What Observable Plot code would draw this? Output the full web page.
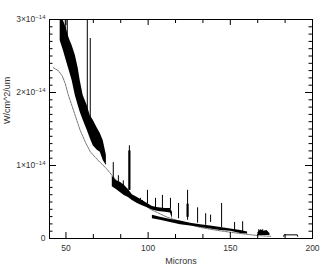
<!DOCTYPE html>
<html><head><meta charset="utf-8">
<script src="https://cdn.jsdelivr.net/npm/d3@7"></script>
<script src="https://cdn.jsdelivr.net/npm/@observablehq/plot@0.6"></script>
<style>html,body{margin:0;padding:0;background:#fff}svg{display:block}</style>
</head><body><div id="chart"></div>
<script>
// Flux values are in units of 1e-14 W/cm^2/um; wavelengths in microns.
const xTicksMajor = [50, 100, 150, 200];
const xTickLabels = ["50", "100", "150", "200"];
const xTicksMinor = [66.67, 83.33, 116.67, 133.33, 166.67, 183.33];
const yTicksMajor = [0, 1, 2, 3];
const yTickLabels = ["0", "1×10", "2×10", "3×10"];
const yExponent = "−14";

// smooth model curve
const modelX = [42.3, 45.3, 47.7, 49.6, 51.4, 53.8, 56.3, 58.7, 61.8, 64.8, 67.9, 70.9, 74.6, 78.2, 83.1, 91.0, 101.4, 111.8, 122.7, 131.9, 142.3, 152.0, 166.7, 174.6];
const modelY = [2.34, 2.30, 2.23, 2.12, 1.97, 1.81, 1.64, 1.48, 1.32, 1.19, 1.11, 1.04, 0.96, 0.86, 0.74, 0.56, 0.40, 0.29, 0.21, 0.15, 0.11, 0.08, 0.04, 0.03];

// noisy spectrum envelopes (segments)
const band1X  = [46.5, 48.4, 50.2, 52.0, 53.8, 55.7, 57.5, 58.7, 60.5, 63.0, 64.8, 66.6, 69.1, 70.9, 72.7, 74.6];
const band1Hi = [3.2, 2.99, 2.88, 2.74, 2.64, 2.51, 2.33, 2.16, 1.96, 1.82, 1.68, 1.62, 1.51, 1.44, 1.34, 1.14];
const band1Lo = [2.71, 2.58, 2.44, 2.30, 2.16, 1.96, 1.82, 1.73, 1.62, 1.48, 1.37, 1.27, 1.21, 1.18, 1.07, 1.00];

const band2X  = [78.2, 80.7, 83.1, 85.5, 88.0, 90.4, 93.5, 96.5, 99.6, 102.6, 106.3, 110.5, 113.6, 114.8];
const band2Hi = [0.85, 0.79, 0.77, 0.73, 0.67, 0.60, 0.56, 0.52, 0.48, 0.44, 0.42, 0.41, 0.41, 0.36];
const band2Lo = [0.71, 0.67, 0.63, 0.59, 0.56, 0.52, 0.48, 0.45, 0.42, 0.39, 0.37, 0.36, 0.35, 0.27];

const band3X  = [102.6, 107.5, 113.6, 119.7, 125.8, 131.9, 138.0, 144.1, 150.2, 156.3, 160.5];
const band3Hi = [0.32, 0.29, 0.26, 0.24, 0.21, 0.19, 0.17, 0.15, 0.13, 0.11, 0.09];
const band3Lo = [0.27, 0.25, 0.22, 0.19, 0.17, 0.15, 0.13, 0.11, 0.10, 0.07, 0.06];

const band4X  = [166.8, 168.6, 170.4, 172.3, 174.1];
const band4Hi = [0.08, 0.12, 0.10, 0.11, 0.07];
const band4Lo = [0.04, 0.04, 0.04, 0.04, 0.04];

const tailX = [182.5, 182.7, 190.8, 191.0];
const tailY = [0.03, 0.05, 0.05, 0.03];

// emission-line spikes
const spikeX    = [49.6, 50.8, 63.0, 64.8, 78.8, 81.9, 84.9, 88.6, 95.3, 96.5, 99.6, 104.5, 108.7, 113.6, 118.5, 124.0, 130.1, 135.0, 138.0, 144.7, 152.6, 157.5, 167.3, 169.7];
const spikeTop  = [3.2, 3.2, 3.2, 2.74, 1.04, 0.86, 0.79, 1.27, 0.55, 0.52, 0.66, 0.55, 0.59, 0.55, 0.48, 0.66, 0.42, 0.34, 0.32, 0.48, 0.22, 0.23, 0.12, 0.12];
const spikeBase = [2.51, 2.44, 1.75, 1.64, 0.82, 0.77, 0.71, 0.66, 0.49, 0.46, 0.47, 0.42, 0.41, 0.40, 0.27, 0.25, 0.21, 0.18, 0.22, 0.15, 0.11, 0.08, 0.05, 0.05];
const thickSpikeX = [88.6, 124.0];
const thickSpikeTop = [1.20, 0.47];
const thickSpikeBase = [0.66, 0.29];

const model = modelX.map((x, i) => ({x, y: modelY[i]}));
const bands = [];
[[band1X, band1Hi, band1Lo], [band2X, band2Hi, band2Lo], [band3X, band3Hi, band3Lo], [band4X, band4Hi, band4Lo]]
  .forEach(([xs, hi, lo], s) => xs.forEach((x, i) => bands.push({seg: s, x, hi: hi[i], lo: lo[i]})));
const tail = tailX.map((x, i) => ({x, y: tailY[i]}));
const spikes = spikeX.map((x, i) => ({x, top: spikeTop[i], base: spikeBase[i]}));
const thick = thickSpikeX.map((x, i) => ({x, top: thickSpikeTop[i], base: thickSpikeBase[i]}));

const W = 327, H = 273, mL = 49, mR = 15, mT = 19, mB = 35;
const xDom = [40, 200], yDom = [0, 3];
const yPerPx = (yDom[1] - yDom[0]) / (H - mT - mB);
const xPerPx = (xDom[1] - xDom[0]) / (W - mL - mR);
const yMinor = d3.range(0, 3.001, 0.1).map(v => +v.toFixed(2)).filter(v => !yTicksMajor.includes(v));

const ink = "#000";
const chart = Plot.plot({
  width: W, height: H,
  marginLeft: mL, marginRight: mR, marginTop: mT, marginBottom: mB,
  style: {fontFamily: "'Liberation Sans', Helvetica, Arial, sans-serif", fontSize: "8.5px", color: "#333", background: "#fff"},
  x: {domain: xDom},
  y: {domain: yDom},
  marks: [
    Plot.line(model, {x: "x", y: "y", stroke: "#666", strokeWidth: 0.9, strokeDasharray: "2.5,1", clip: true}),
    Plot.areaY(bands, {x: "x", y1: "lo", y2: "hi", z: "seg", fill: ink, curve: "linear", clip: true}),
    Plot.ruleX(spikes, {x: "x", y1: "base", y2: "top", stroke: ink, strokeWidth: 1, clip: true}),
    Plot.ruleX(thick, {x: "x", y1: "base", y2: "top", stroke: ink, strokeWidth: 2.2, clip: true}),
    Plot.line(tail, {x: "x", y: "y", stroke: ink, strokeWidth: 1}),
    // inward ticks
    Plot.ruleX(xTicksMajor, {y1: yDom[0], y2: yDom[0] + 6 * yPerPx, stroke: ink}),
    Plot.ruleX(xTicksMinor, {y1: yDom[0], y2: yDom[0] + 4 * yPerPx, stroke: ink}),
    Plot.ruleX(xTicksMajor, {y1: yDom[1], y2: yDom[1] - 6 * yPerPx, stroke: ink}),
    Plot.ruleX(xTicksMinor, {y1: yDom[1], y2: yDom[1] - 4 * yPerPx, stroke: ink}),
    Plot.ruleY(yTicksMajor, {x1: xDom[0], x2: xDom[0] + 7 * xPerPx, stroke: ink}),
    Plot.ruleY(yMinor, {x1: xDom[0], x2: xDom[0] + 3.5 * xPerPx, stroke: ink}),
    Plot.ruleY(yTicksMajor, {x1: xDom[1], x2: xDom[1] - 7 * xPerPx, stroke: ink}),
    Plot.ruleY(yMinor, {x1: xDom[1], x2: xDom[1] - 3.5 * xPerPx, stroke: ink}),
    Plot.frame({stroke: ink, strokeWidth: 1}),
    Plot.axisX({ticks: xTicksMajor, tickSize: 0, tickPadding: 6, tickFormat: d => xTickLabels[xTicksMajor.indexOf(d)], label: null}),
    Plot.axisY({ticks: yTicksMajor, tickSize: 0, tickPadding: 4, tickFormat: d => yTickLabels[yTicksMajor.indexOf(d)], label: null}),
    Plot.text(["Microns"], {frameAnchor: "bottom", dy: 25, fontSize: 9, fill: "#333"}),
    Plot.text(["W/cm^2/um"], {frameAnchor: "left", dx: -42, dy: -5, rotate: -90, fontSize: 9, fill: "#333"})
  ]
});
// superscript exponents on y tick labels
d3.select(chart).selectAll("text").each(function () {
  const t = this.textContent;
  if (t.endsWith("×10")) {
    const sel = d3.select(this);
    sel.text(t);
    sel.append("tspan").attr("dy", "-0.5em").attr("font-size", "6px").text(yExponent);
  }
});
document.getElementById("chart").appendChild(chart);
</script>
</body></html>
